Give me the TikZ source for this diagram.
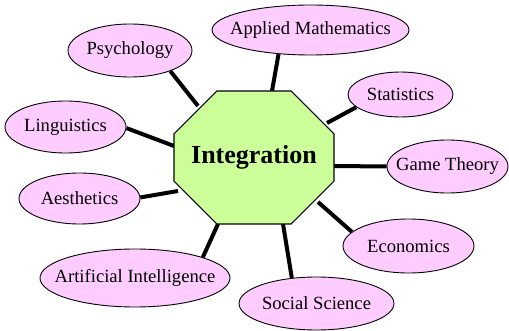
\documentclass[tikz,border=0pt]{standalone}
\usepackage{fontspec}
\setmainfont{Liberation Serif}
\usetikzlibrary{shapes.geometric,shapes.misc,backgrounds}
\definecolor{bubblepink}{HTML}{FFCCFF}
\definecolor{hubgreen}{HTML}{CCFF99}
\begin{document}
\begin{tikzpicture}[x=1pt,y=-1pt,
  bubblefont/.style={font=\fontsize{18.6}{20}\selectfont},
  bubble/.style={ellipse,draw=black,line width=0.9pt,fill=bubblepink,inner sep=0pt},
  hub/.style={chamfered rectangle,chamfered rectangle xsep=31pt,chamfered rectangle ysep=31pt,
    draw=black,line width=1.1pt,fill=hubgreen,inner sep=0pt,minimum width=160pt,minimum height=133pt,
    font=\fontsize{26}{28}\selectfont\bfseries},
  spoke/.style={line width=4pt}]
\useasboundingbox (0,0) rectangle (509,331);
\node[hub] (c) at (254,157.5) {Integration};
\node[bubble,minimum width=124pt,minimum height=53pt,label={[bubblefont]center:Psychology}] (psy) at (130,50.5) {};
\node[bubble,minimum width=121pt,minimum height=52pt,label={[bubblefont]center:Linguistics}] (lin) at (65.5,127) {};
\node[bubble,minimum width=197pt,minimum height=50pt,label={[bubblefont]center:Applied Mathematics}] (app) at (310.5,30) {};
\node[bubble,minimum width=105pt,minimum height=45pt,label={[bubblefont]center:Statistics}] (sta) at (400.5,94.5) {};
\node[bubble,minimum width=121pt,minimum height=53pt,label={[bubblefont]center:Game Theory}] (gam) at (447.5,166.5) {};
\node[bubble,minimum width=121pt,minimum height=51pt,label={[bubblefont]center:Aesthetics}] (aes) at (79.5,198.5) {};
\node[bubble,minimum width=190pt,minimum height=58pt,label={[bubblefont]center:Artificial Intelligence}] (ai) at (135,278) {};
\node[bubble,minimum width=155pt,minimum height=53pt,label={[bubblefont]center:Social Science}] (soc) at (316.5,303.5) {};
\node[bubble,minimum width=131pt,minimum height=54pt,label={[bubblefont]center:Economics}] (eco) at (408.5,246) {};
\coordinate (h-psy) at (198,106);
\coordinate (h-lin) at (174,146);
\coordinate (h-app) at (272,91);
\coordinate (h-sta) at (327,123);
\coordinate (h-gam) at (334,166);
\coordinate (h-aes) at (178,191);
\coordinate (h-ai) at (218,224);
\coordinate (h-soc) at (283,224);
\coordinate (h-eco) at (318,202);
\begin{scope}[on background layer]
\draw[spoke] (psy.-27) -- (h-psy);
\draw[spoke] (lin.-1) -- (h-lin);
\draw[spoke] (app.-143) -- (h-app);
\draw[spoke] (sta.-164) -- (h-sta);
\draw[spoke] (gam.180) -- (h-gam);
\draw[spoke] (aes.1.5) -- (h-aes);
\draw[spoke] (ai.17) -- (h-ai);
\draw[spoke] (soc.134) -- (h-soc);
\draw[spoke] (eco.166) -- (h-eco);
\end{scope}
\end{tikzpicture}
\end{document}
